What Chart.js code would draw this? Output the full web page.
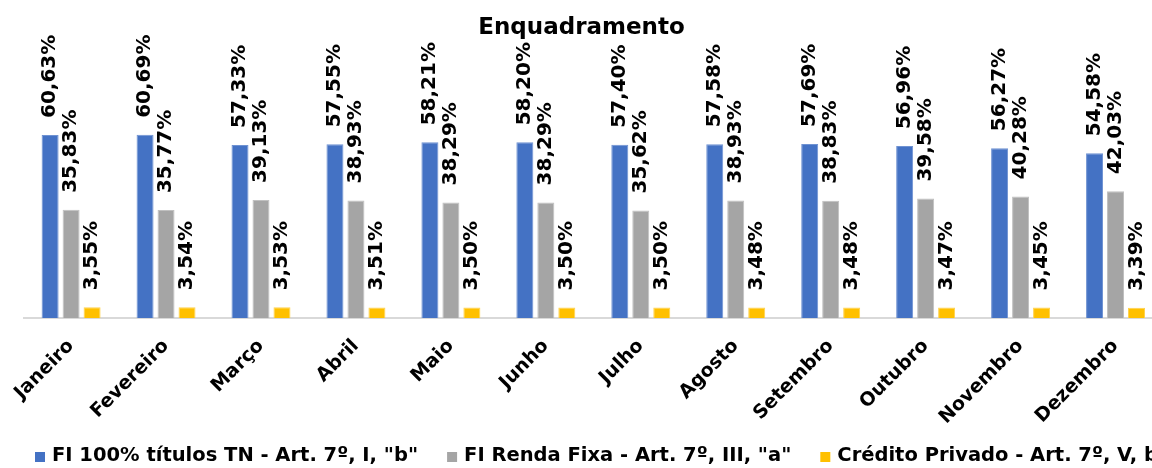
<!DOCTYPE html>
<html>
<head>
<meta charset="utf-8">
<script src="https://cdn.jsdelivr.net/npm/chart.js@4.4.1/dist/chart.umd.min.js"></script>
<style>
  html, body { margin: 0; padding: 0; background: #fff; overflow: hidden; }
  #wrap { position: relative; width: 1166px; height: 468px; }
</style>
</head>
<body>
<div id="wrap"><canvas id="c" width="1166" height="468"></canvas></div>
<script>
const categories = ["Janeiro","Fevereiro","Março","Abril","Maio","Junho","Julho","Agosto","Setembro","Outubro","Novembro","Dezembro"];
const seriesNames = ['FI 100% títulos TN - Art. 7º, I, "b"', 'FI Renda Fixa - Art. 7º, III, "a"', 'Crédito Privado - Art. 7º, V, b'];
const tituloTN = [60.63, 60.69, 57.33, 57.55, 58.21, 58.20, 57.40, 57.58, 57.69, 56.96, 56.27, 54.58];
const rendaFixa = [35.83, 35.77, 39.13, 38.93, 38.29, 38.29, 35.62, 38.93, 38.83, 39.58, 40.28, 42.03];
const creditoPrivado = [3.55, 3.54, 3.53, 3.51, 3.50, 3.50, 3.50, 3.48, 3.48, 3.47, 3.45, 3.39];

const FONT = "'DejaVu Sans', Verdana, sans-serif";

const valueLabels = {
  id: 'valueLabels',
  afterDatasetsDraw(chart) {
    const ctx = chart.ctx;
    ctx.save();
    ctx.font = "bold 20px " + FONT;
    ctx.fillStyle = '#000';
    ctx.textAlign = 'left';
    ctx.textBaseline = 'middle';
    chart.data.datasets.forEach((ds, di) => {
      const meta = chart.getDatasetMeta(di);
      meta.data.forEach((el, i) => {
        const v = ds.data[i];
        const txt = v.toFixed(2).replace('.', ',') + '%';
        ctx.save();
        ctx.translate(el.x, el.y - 17);
        ctx.rotate(-Math.PI / 2);
        ctx.fillText(txt, 0, 0);
        ctx.restore();
      });
    });
    ctx.restore();
  }
};

// Legend drawn in one row (like the original, which runs off the right edge)
const rowLegend = {
  id: 'rowLegend',
  afterDraw(chart) {
    const ctx = chart.ctx;
    ctx.save();
    ctx.font = "bold 19.5px " + FONT;
    ctx.textBaseline = 'middle';
    ctx.textAlign = 'left';
    let x = 35;
    const y = 456;
    chart.data.datasets.forEach((ds) => {
      ctx.fillStyle = ds.backgroundColor;
      ctx.fillRect(x, y - 4, 10, 10);
      x += 17;
      ctx.fillStyle = '#000';
      ctx.fillText(ds.label, x, y);
      x += ctx.measureText(ds.label).width + 29;
    });
    ctx.restore();
  }
};

new Chart(document.getElementById('c'), {
  type: 'bar',
  data: {
    labels: categories,
    datasets: [
      { label: seriesNames[0], data: tituloTN, backgroundColor: '#4472C4', borderColor: '#6f92d2', borderWidth: 1 },
      { label: seriesNames[1], data: rendaFixa, backgroundColor: '#A5A5A5', borderColor: '#c0c0c0', borderWidth: 1 },
      { label: seriesNames[2], data: creditoPrivado, backgroundColor: '#FFC000', borderColor: '#ffd24d', borderWidth: 1 }
    ]
  },
  options: {
    responsive: false,
    animation: false,
    devicePixelRatio: 1,
    layout: { padding: { left: 0, right: 3, top: 0, bottom: 40 } },
    datasets: { bar: { categoryPercentage: 0.663, barPercentage: 0.81 } },
    scales: {
      x: {
        grid: { display: false, drawTicks: false },
        border: { display: true, color: '#d9d9d9', width: 2 },
        ticks: {
          color: '#000',
          font: { family: FONT, size: 19, weight: 'bold' },
          minRotation: 45, maxRotation: 45,
          padding: 17,
          autoSkip: false
        },
        afterFit(scale) { scale.height = 110; }
      },
      y: {
        display: true,
        min: 0,
        max: 89.6,
        grid: { display: false, drawTicks: false },
        border: { display: false },
        ticks: { display: false },
        afterFit(scale) { scale.width = 21.5; }
      }
    },
    plugins: {
      title: {
        display: true,
        text: 'Enquadramento',
        color: '#000',
        font: { family: FONT, size: 23, weight: 'bold' },
        padding: { top: 14, bottom: 6 }
      },
      legend: { display: false },
      tooltip: { enabled: false }
    }
  },
  plugins: [valueLabels, rowLegend]
});
</script>
</body>
</html>
